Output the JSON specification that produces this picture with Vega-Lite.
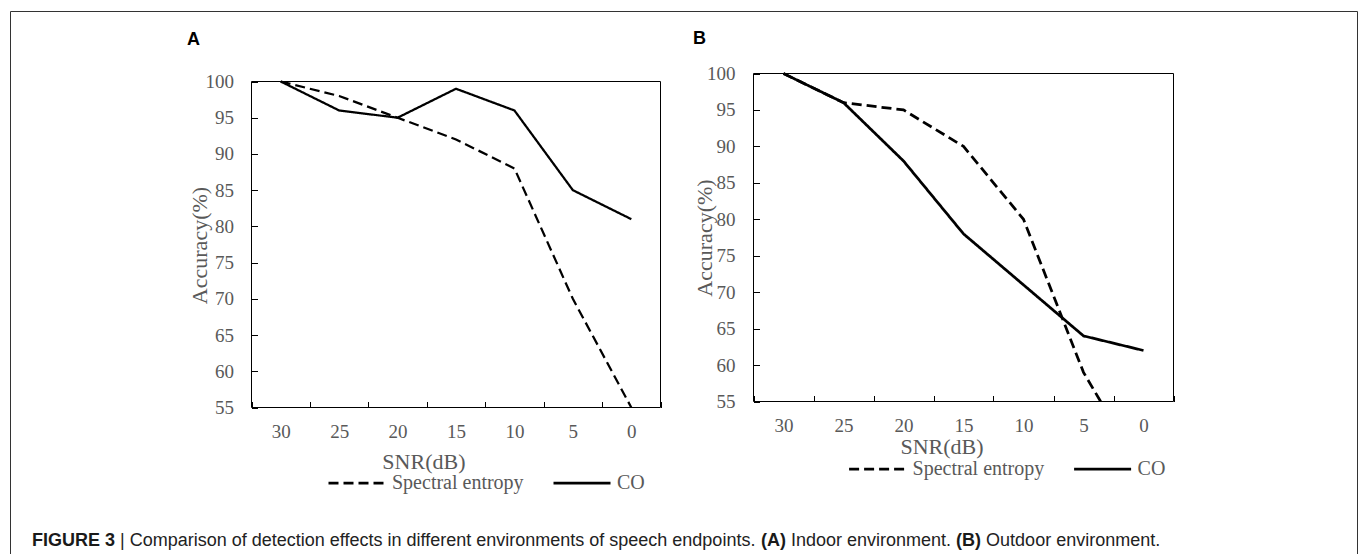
{
  "$schema": "https://vega.github.io/schema/vega-lite/v6.json",
  "width": 1347,
  "height": 543,
  "autosize": {"type": "none"},
  "padding": {"left": 10, "top": 11, "right": 3, "bottom": 0},
  "background": "white",
  "config": {
    "view": {"stroke": "#333333", "strokeWidth": 1},
    "axis": {
      "grid": false,
      "domain": false,
      "labelFont": "Liberation Serif",
      "titleFont": "Liberation Serif",
      "labelColor": "#595959",
      "titleColor": "#595959",
      "labelFontSize": 19,
      "titleFontSize": 22,
      "titleFontWeight": "normal",
      "tickColor": "#000000",
      "tickWidth": 1,
      "labelFlush": false,
      "labelOverlap": false
    }
  },
  "datasets": {
    "A": [
      {"series": "Spectral entropy", "snr": 30, "acc": 100},
      {"series": "Spectral entropy", "snr": 25, "acc": 98},
      {"series": "Spectral entropy", "snr": 20, "acc": 95},
      {"series": "Spectral entropy", "snr": 15, "acc": 92},
      {"series": "Spectral entropy", "snr": 10, "acc": 88},
      {"series": "Spectral entropy", "snr": 5, "acc": 70},
      {"series": "Spectral entropy", "snr": 0, "acc": 55},
      {"series": "CO", "snr": 30, "acc": 100},
      {"series": "CO", "snr": 25, "acc": 96},
      {"series": "CO", "snr": 20, "acc": 95},
      {"series": "CO", "snr": 15, "acc": 99},
      {"series": "CO", "snr": 10, "acc": 96},
      {"series": "CO", "snr": 5, "acc": 85},
      {"series": "CO", "snr": 0, "acc": 81}
    ],
    "B": [
      {"series": "Spectral entropy", "snr": 30, "acc": 100},
      {"series": "Spectral entropy", "snr": 25, "acc": 96},
      {"series": "Spectral entropy", "snr": 20, "acc": 95},
      {"series": "Spectral entropy", "snr": 15, "acc": 90},
      {"series": "Spectral entropy", "snr": 10, "acc": 80},
      {"series": "Spectral entropy", "snr": 5, "acc": 59},
      {"series": "Spectral entropy", "snr": 0, "acc": 45},
      {"series": "CO", "snr": 30, "acc": 100},
      {"series": "CO", "snr": 25, "acc": 96},
      {"series": "CO", "snr": 20, "acc": 88},
      {"series": "CO", "snr": 15, "acc": 78},
      {"series": "CO", "snr": 10, "acc": 71},
      {"series": "CO", "snr": 5, "acc": 64},
      {"series": "CO", "snr": 0, "acc": 62}
    ],
    "one": [{"k": 1}]
  },
  "layer": [
    {
      "layer": [
        {
          "data": {"name": "A"},
          "mark": {"type": "line", "color": "#000000", "strokeWidth": 2.25},
          "encoding": {
            "x": {
              "field": "snr", "type": "quantitative",
              "scale": {"domain": [-2.5, 32.5], "reverse": true, "range": [241.5, 650.5], "nice": false, "zero": false},
              "axis": {
                "orient": "bottom", "offset": -146.5, "tickSize": -6, "zindex": 1,
                "values": [32.5, 27.5, 22.5, 17.5, 12.5, 7.5, 2.5, -2.5],
                "labelExpr": "datum.value > 31 ? '' : format(datum.value + 2.5, 'd')",
                "labelOffset": -29.2, "labelPadding": 30.4, "labelBaseline": "middle",
                "title": "SNR(dB)", "titleX": 413.4, "titleY": 53.6, "titleBaseline": "middle"
              }
            },
            "y": {
              "field": "acc", "type": "quantitative",
              "scale": {"domain": [55, 100], "range": [396.5, 70.5], "nice": false, "zero": false},
              "axis": {
                "orient": "left", "offset": -241.5, "tickSize": -6, "zindex": 1,
                "values": [55, 60, 65, 70, 75, 80, 85, 90, 95, 100],
                "labelPadding": 23.9,
                "title": "Accuracy(%)", "titleX": -52.5, "titleY": 234, "titleBaseline": "middle"
              }
            },
            "strokeDash": {
              "field": "series", "type": "nominal",
              "scale": {"domain": ["Spectral entropy", "CO"], "range": [[10, 5], [1, 0]]},
              "legend": {
                "orient": "none", "legendX": 317, "legendY": 442, "direction": "horizontal",
                "title": null, "symbolType": "stroke", "symbolSize": 3249, "symbolStrokeWidth": 2.75,
                "symbolStrokeColor": "#000000", "labelFont": "Liberation Serif", "labelFontSize": 20,
                "labelColor": "#595959", "labelOffset": 5, "columnPadding": 24, "padding": 0, "labelLimit": 300, "zindex": 1,
                "encode": {"symbols": {"update": {"strokeDash": {"signal": "datum.value === 'CO' ? [1, 0] : [9, 3.5]"}}}}
              }
            }
          }
        },
        {
          "data": {"name": "one"},
          "mark": {"type": "rect", "filled": false, "stroke": "#000000", "strokeWidth": 1},
          "encoding": {
            "x": {"datum": -2.5, "type": "quantitative", "scale": {"domain": [-2.5, 32.5], "reverse": true, "range": [241.5, 650.5], "nice": false, "zero": false}},
            "x2": {"datum": 32.5},
            "y": {"datum": 55, "type": "quantitative", "scale": {"domain": [55, 100], "range": [396.5, 70.5], "nice": false, "zero": false}},
            "y2": {"datum": 100}
          }
        },
        {
          "data": {"name": "one"},
          "mark": {"type": "text", "text": "A", "font": "Liberation Sans", "fontSize": 18, "fontWeight": "bold", "align": "left", "baseline": "alphabetic", "dx": -64.5, "dy": -36.5, "color": "#000000"},
          "encoding": {
            "x": {"datum": 32.5, "type": "quantitative", "scale": {"domain": [-2.5, 32.5], "reverse": true, "range": [241.5, 650.5], "nice": false, "zero": false}},
            "y": {"datum": 100, "type": "quantitative", "scale": {"domain": [55, 100], "range": [396.5, 70.5], "nice": false, "zero": false}}
          }
        },
        {
          "data": {"name": "one"},
          "encoding": {
            "x": {"datum": 32.5, "type": "quantitative", "scale": {"domain": [-2.5, 32.5], "reverse": true, "range": [241.5, 650.5], "nice": false, "zero": false}},
            "y": {"datum": 55, "type": "quantitative", "scale": {"domain": [55, 100], "range": [396.5, 70.5], "nice": false, "zero": false}}
          },
          "layer": [
            {"mark": {"type": "text", "text": "FIGURE 3", "font": "Liberation Sans", "fontSize": 18, "fontWeight": "bold", "align": "left", "baseline": "alphabetic", "dx": -219.5, "dy": 138.5, "color": "#1a1a1a"}},
            {"mark": {"type": "text", "text": "| Comparison of detection effects in different environments of speech endpoints.", "font": "Liberation Sans", "fontSize": 18, "align": "left", "baseline": "alphabetic", "dx": -131.5, "dy": 138.5, "color": "#222222"}},
            {"mark": {"type": "text", "text": "(A)", "font": "Liberation Sans", "fontSize": 18, "fontWeight": "bold", "align": "left", "baseline": "alphabetic", "dx": 509.5, "dy": 138.5, "color": "#1a1a1a"}},
            {"mark": {"type": "text", "text": "Indoor environment.", "font": "Liberation Sans", "fontSize": 18, "align": "left", "baseline": "alphabetic", "dx": 539.5, "dy": 138.5, "color": "#222222"}},
            {"mark": {"type": "text", "text": "(B)", "font": "Liberation Sans", "fontSize": 18, "fontWeight": "bold", "align": "left", "baseline": "alphabetic", "dx": 704.6, "dy": 138.5, "color": "#1a1a1a"}},
            {"mark": {"type": "text", "text": "Outdoor environment.", "font": "Liberation Sans", "fontSize": 18, "align": "left", "baseline": "alphabetic", "dx": 734.6, "dy": 138.5, "color": "#222222"}}
          ]
        }
      ]
    },
    {
      "layer": [
        {
          "data": {"name": "B"},
          "mark": {"type": "line", "color": "#000000", "strokeWidth": 2.75},
          "encoding": {
            "x": {
              "field": "snr", "type": "quantitative",
              "scale": {"domain": [-2.5, 32.5], "reverse": true, "range": [743.5, 1163.5], "nice": false, "zero": false},
              "axis": {
                "orient": "bottom", "offset": -152.5, "tickSize": -6, "zindex": 1,
                "values": [32.5, 27.5, 22.5, 17.5, 12.5, 7.5, 2.5, -2.5],
                "labelExpr": "datum.value > 31 ? '' : format(datum.value + 2.5, 'd')",
                "labelOffset": -30, "labelPadding": 29.5, "labelBaseline": "middle",
                "title": "SNR(dB)", "titleX": 931.5, "titleY": 44.6, "titleBaseline": "middle"
              }
            },
            "y": {
              "field": "acc", "type": "quantitative",
              "scale": {"domain": [55, 100], "range": [390.5, 62.5], "nice": false, "zero": false},
              "axis": {
                "orient": "left", "offset": -743.5, "tickSize": -6, "zindex": 1,
                "values": [55, 60, 65, 70, 75, 80, 85, 90, 95, 100],
                "labelPadding": 24.5,
                "title": "Accuracy(%)", "titleX": -49, "titleY": 226.5, "titleBaseline": "middle"
              }
            },
            "strokeDash": {
              "field": "series", "type": "nominal",
              "scale": {"domain": ["Spectral entropy", "CO"], "range": [[10, 5], [1, 0]]},
              "legend": {
                "orient": "none", "legendX": 837.6, "legendY": 428, "direction": "horizontal",
                "title": null, "symbolType": "stroke", "symbolSize": 3249, "symbolStrokeWidth": 2.75,
                "symbolStrokeColor": "#000000", "labelFont": "Liberation Serif", "labelFontSize": 20,
                "labelColor": "#595959", "labelOffset": 5, "columnPadding": 24, "padding": 0, "labelLimit": 300, "zindex": 1,
                "encode": {"symbols": {"update": {"strokeDash": {"signal": "datum.value === 'CO' ? [1, 0] : [9, 3.5]"}}}}
              }
            }
          }
        },
        {
          "data": {"name": "one"},
          "mark": {"type": "rect", "fill": "#ffffff", "stroke": null},
          "encoding": {
            "x": {"datum": 5, "type": "quantitative", "scale": {"domain": [-2.5, 32.5], "reverse": true, "range": [743.5, 1163.5], "nice": false, "zero": false}},
            "x2": {"datum": -2.5},
            "y": {"datum": 55, "type": "quantitative", "scale": {"domain": [55, 100], "range": [390.5, 62.5], "nice": false, "zero": false}},
            "y2": {"datum": 43}
          }
        },
        {
          "data": {"name": "one"},
          "mark": {"type": "rect", "filled": false, "stroke": "#000000", "strokeWidth": 1},
          "encoding": {
            "x": {"datum": -2.5, "type": "quantitative", "scale": {"domain": [-2.5, 32.5], "reverse": true, "range": [743.5, 1163.5], "nice": false, "zero": false}},
            "x2": {"datum": 32.5},
            "y": {"datum": 55, "type": "quantitative", "scale": {"domain": [55, 100], "range": [390.5, 62.5], "nice": false, "zero": false}},
            "y2": {"datum": 100}
          }
        },
        {
          "data": {"name": "one"},
          "mark": {"type": "text", "text": "B", "font": "Liberation Sans", "fontSize": 18, "fontWeight": "bold", "align": "left", "baseline": "alphabetic", "dx": -60.5, "dy": -29.5, "color": "#000000"},
          "encoding": {
            "x": {"datum": 32.5, "type": "quantitative", "scale": {"domain": [-2.5, 32.5], "reverse": true, "range": [743.5, 1163.5], "nice": false, "zero": false}},
            "y": {"datum": 100, "type": "quantitative", "scale": {"domain": [55, 100], "range": [390.5, 62.5], "nice": false, "zero": false}}
          }
        }
      ]
    }
  ],
  "resolve": {
    "scale": {"x": "independent", "y": "independent", "strokeDash": "independent"},
    "axis": {"x": "independent", "y": "independent"},
    "legend": {"strokeDash": "independent"}
  }
}
